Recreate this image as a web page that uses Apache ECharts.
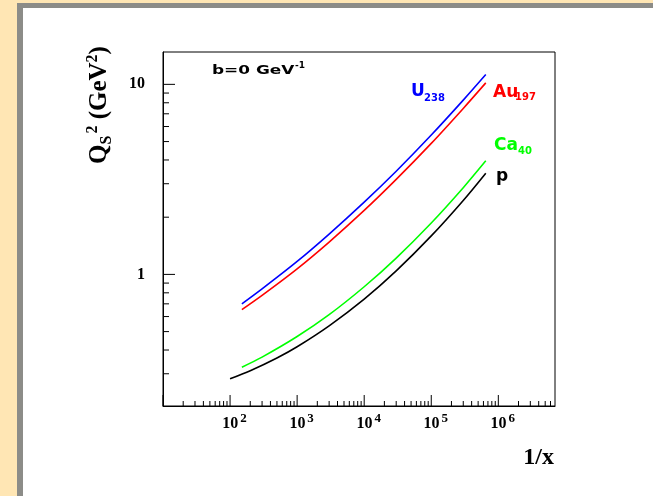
<!DOCTYPE html>
<html><head><meta charset="utf-8">
<script src="https://cdn.jsdelivr.net/npm/echarts@6/dist/echarts.min.js"></script>
<style>html,body{margin:0;padding:0;background:#FFE6B4}#c{width:653px;height:496px}</style>
</head><body><div id="c"></div>
<script>
// axis ranges
const X_MIN = 10, X_MAX = 7.0e6, Y_MIN = 0.203, Y_MAX = 14.8;
// tick values
const xMajorTicks = [10, 100, 1e3, 1e4, 1e5, 1e6];
const yMajorTicks = [1, 10];
const minorMantissas = [2, 3, 4, 5, 6, 7, 8, 9];
const xDecades = [10, 100, 1e3, 1e4, 1e5, 1e6];
const yDecades = [0.1, 1, 10];
// series data (1/x, Qs^2)
const xNuclei = [150, 300, 1000, 3000, 1e4, 3e4, 1e5, 3e5, 6.5e5];
const uValues  = [0.70, 0.839, 1.17, 1.63, 2.40, 3.49, 5.41, 8.26, 11.26];
const auValues = [0.653, 0.776, 1.07, 1.48, 2.17, 3.16, 4.89, 7.47, 10.18];
const caValues = [0.325, 0.367, 0.471, 0.614, 0.861, 1.219, 1.865, 2.86, 3.96];
const xProton  = [100, 200, 500, 1000, 3000, 1e4, 3e4, 1e5, 3e5, 6.5e5];
const pValues  = [0.282, 0.311, 0.363, 0.416, 0.536, 0.741, 1.043, 1.594, 2.45, 3.41];

const pairs = (xs, ys) => xs.map((x, i) => [x, ys[i]]);

// tick marks: [x, y, kind(0 = x-axis, 1 = y-axis), length]
const tickData = [];
xMajorTicks.forEach(v => tickData.push([v, Y_MIN, 0, 11]));
xDecades.forEach(d => minorMantissas.forEach(m => { const v = m * d; if (v > X_MIN && v < X_MAX) tickData.push([v, Y_MIN, 0, 5]); }));
yMajorTicks.forEach(v => tickData.push([X_MIN, v, 1, 12]));
yDecades.forEach(d => minorMantissas.forEach(m => { const v = m * d; if (v > Y_MIN && v < Y_MAX) tickData.push([X_MIN, v, 1, 6]); }));

const SERIF = '"Liberation Serif", "Times New Roman", serif';
const SANS = '"DejaVu Sans", sans-serif';

const chart = echarts.init(document.getElementById('c'), null, {renderer: 'canvas'});
const lineSeries = (name, data, color) => ({
  name, type: 'line', data, showSymbol: false, smooth: 0.3,
  lineStyle: {color, width: 1.6}, itemStyle: {color}, z: 3, animation: false
});

chart.setOption({
  backgroundColor: '#FFE6B4',
  animation: false,
  grid: {left: 163, right: 98, top: 52, bottom: 90, containLabel: false, outerBoundsMode: 'none',
         show: true, borderColor: '#000', borderWidth: 1, backgroundColor: 'transparent'},
  xAxis: {
    type: 'log', min: X_MIN, max: X_MAX, logBase: 10, splitNumber: 6,
    axisLine: {show: true, lineStyle: {color: '#000', width: 1}},
    axisTick: {show: false}, splitLine: {show: false},
    axisLabel: {
      margin: 6, padding: [0, 0, 0, 9],
      formatter: v => { const e = Math.log10(v), r = Math.round(e); if (Math.abs(e - r) > 1e-6 || r < 2) return ''; return '{m|10}{h| }{s|' + r + '}'; },
      rich: {
        m: {fontFamily: SERIF, fontWeight: 'bold', fontSize: 16, color: '#000', lineHeight: 16, verticalAlign: 'bottom'},
        h: {fontSize: 7, lineHeight: 20},
        s: {fontFamily: SERIF, fontWeight: 'bold', fontSize: 13, color: '#000', lineHeight: 13, verticalAlign: 'top'}
      }
    }
  },
  yAxis: {
    type: 'log', min: Y_MIN, max: Y_MAX, logBase: 10,
    axisLine: {show: true, lineStyle: {color: '#000', width: 1}},
    axisTick: {show: false}, splitLine: {show: false},
    axisLabel: {
      margin: 18, fontFamily: SERIF, fontWeight: 'bold', fontSize: 16, color: '#000',
      formatter: v => { const e = Math.log10(v), r = Math.round(e); if (Math.abs(e - r) > 1e-6 || r < 0) return ''; return String(Math.round(v)); }
    }
  },
  series: [
    {
      type: 'custom', data: tickData, encode: {x: 0, y: 1}, z: 4, silent: true, clip: false,
      renderItem: (params, api) => {
        const p = api.coord([api.value(0), api.value(1)]);
        const kind = api.value(2), len = api.value(3);
        const q = kind === 0 ? [p[0], p[1] - len] : [p[0] + len, p[1]];
        return {type: 'line', shape: {x1: p[0], y1: p[1], x2: q[0], y2: q[1]}, style: {stroke: '#000', lineWidth: 1}};
      }
    },
    lineSeries('U238', pairs(xNuclei, uValues), '#0000FF'),
    lineSeries('Au197', pairs(xNuclei, auValues), '#FF0000'),
    lineSeries('Ca40', pairs(xNuclei, caValues), '#00FF00'),
    lineSeries('p', pairs(xProton, pValues), '#000000')
  ],
  graphic: [
    {type: 'rect', shape: {x: 17, y: 3, width: 636, height: 493}, style: {fill: '#8C8C88'}, z: -100, silent: true},
    {type: 'rect', shape: {x: 23, y: 8, width: 630, height: 488}, style: {fill: '#FFFFFF'}, z: -99, silent: true},
    // b = 0 GeV^-1
    {type: 'text', x: 212, y: 64, scaleX: 1.3, z: 10, style: {text: 'b=0 GeV', fontFamily: SANS, fontWeight: 'bold', fontSize: 13, fill: '#000', verticalAlign: 'top'}},
    {type: 'text', x: 295, y: 61, z: 10, style: {text: '-1', fontFamily: SANS, fontWeight: 'bold', fontSize: 9, fill: '#000', verticalAlign: 'top'}},
    // curve labels
    {type: 'text', x: 411, y: 83, z: 10, style: {text: 'U', fontFamily: SANS, fontWeight: 'bold', fontSize: 17, fill: '#0000FF', verticalAlign: 'top'}},
    {type: 'text', x: 424, y: 93, z: 10, style: {text: '238', fontFamily: SANS, fontWeight: 'bold', fontSize: 10, fill: '#0000FF', verticalAlign: 'top'}},
    {type: 'text', x: 493, y: 84, z: 10, style: {text: 'Au', fontFamily: SANS, fontWeight: 'bold', fontSize: 17, fill: '#FF0000', verticalAlign: 'top'}},
    {type: 'text', x: 515, y: 92, z: 10, style: {text: '197', fontFamily: SANS, fontWeight: 'bold', fontSize: 10, fill: '#FF0000', verticalAlign: 'top'}},
    {type: 'text', x: 494, y: 137, z: 10, style: {text: 'Ca', fontFamily: SANS, fontWeight: 'bold', fontSize: 17, fill: '#00FF00', verticalAlign: 'top'}},
    {type: 'text', x: 518, y: 146, z: 10, style: {text: '40', fontFamily: SANS, fontWeight: 'bold', fontSize: 10, fill: '#00FF00', verticalAlign: 'top'}},
    {type: 'text', x: 496, y: 168, z: 10, style: {text: 'p', fontFamily: SANS, fontWeight: 'bold', fontSize: 17, fill: '#000000', verticalAlign: 'top'}},
    // axis titles
    {type: 'text', x: 554, y: 470, z: 10, style: {text: '1/x', fontFamily: SERIF, fontWeight: 'bold', fontSize: 24, fill: '#000', align: 'right', verticalAlign: 'bottom'}},
    {type: 'text', x: 100, y: 105, rotation: Math.PI / 2, z: 10, style: {
      text: '{m|Q}{b|S}{g| }{t|2}{m| (GeV}{t|2}{m|)}', align: 'center', verticalAlign: 'middle',
      rich: {
        m: {fontFamily: SERIF, fontWeight: 'bold', fontSize: 25, fill: '#000', lineHeight: 30, verticalAlign: 'middle'},
        b: {fontFamily: SERIF, fontWeight: 'bold', fontSize: 16, fill: '#000', lineHeight: 30, verticalAlign: 'bottom'},
        g: {fontFamily: SERIF, fontSize: 8, lineHeight: 30},
        t: {fontFamily: SERIF, fontWeight: 'bold', fontSize: 16, fill: '#000', lineHeight: 30, verticalAlign: 'top'}
      }
    }}
  ]
});
</script></body></html>
